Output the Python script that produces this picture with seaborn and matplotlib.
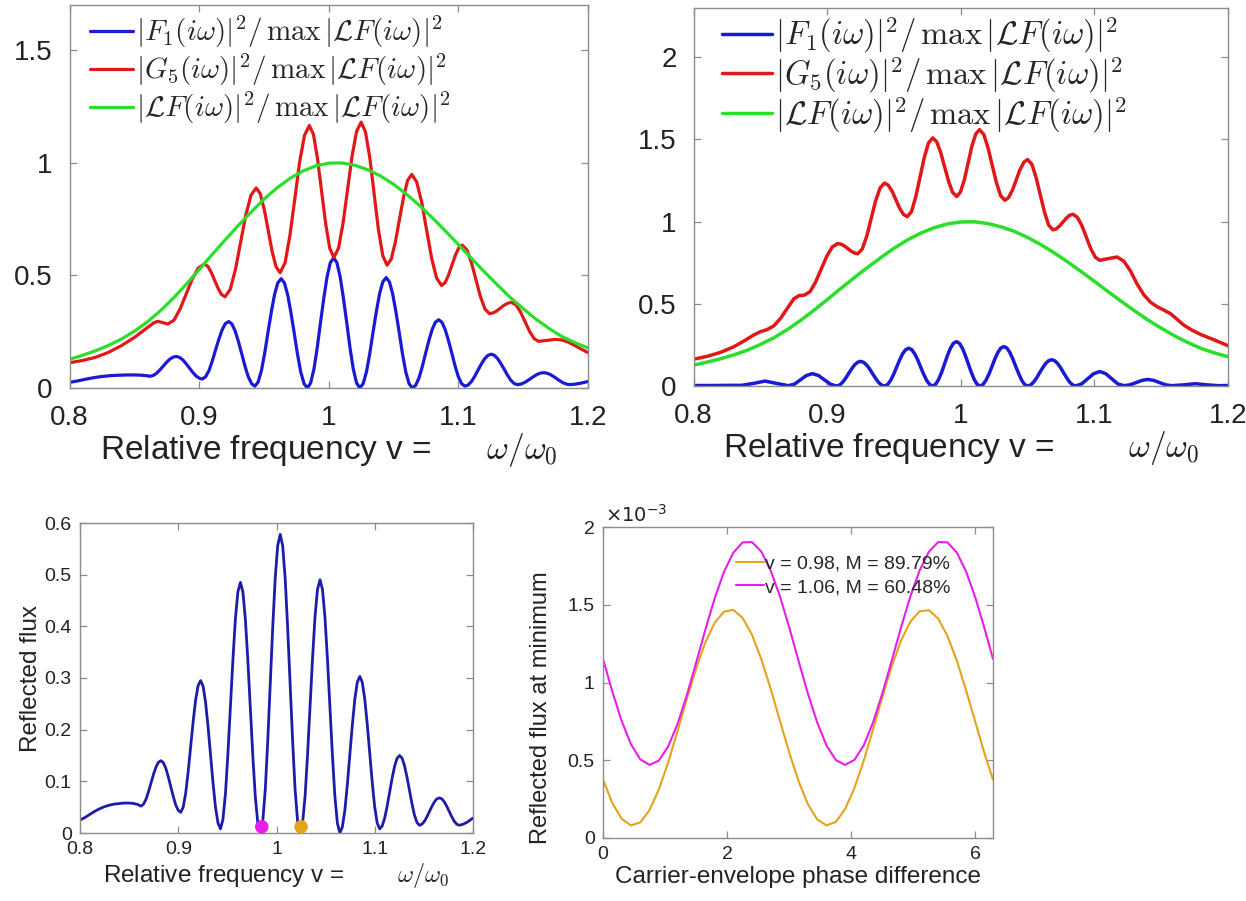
import matplotlib
matplotlib.use("Agg")
import matplotlib.pyplot as plt
from matplotlib.font_manager import FontProperties
from matplotlib.ticker import FuncFormatter, FixedLocator
import seaborn as sns

# ---------------- data ----------------
# Pulse 1: |F1|^2 normalised (also the reflected flux of the lower-left panel)
f1_x = [0.800, 0.805, 0.810, 0.815, 0.820, 0.825, 0.830, 0.835, 0.840, 0.845,
        0.850, 0.855, 0.859,
        0.8620, 0.8645, 0.8671, 0.8696, 0.8721, 0.8747, 0.8772, 0.8797, 0.8823,
        0.8848, 0.8873, 0.8898, 0.8924, 0.8949, 0.8974, 0.9000,
        0.9025, 0.9050, 0.9076, 0.9101, 0.9126, 0.9152, 0.9177, 0.9202, 0.9228,
        0.9253, 0.9278, 0.9303, 0.9329, 0.9354, 0.9379, 0.9405,
        0.9430, 0.9455, 0.9481, 0.9506, 0.9531, 0.9557, 0.9582, 0.9607, 0.9633,
        0.9658, 0.9683, 0.9708, 0.9734, 0.9759, 0.9784, 0.9810,
        0.9835, 0.9860, 0.9886, 0.9911, 0.9936, 0.9962, 0.9987, 1.0012, 1.0038,
        1.0063, 1.0088, 1.0113, 1.0139, 1.0164, 1.0189, 1.0215,
        1.0240, 1.0265, 1.0291, 1.0316, 1.0341, 1.0367, 1.0392, 1.0417, 1.0443,
        1.0468, 1.0493, 1.0518, 1.0544, 1.0569, 1.0594, 1.0620,
        1.0645, 1.0670, 1.0696, 1.0721, 1.0746, 1.0772, 1.0797, 1.0822, 1.0848,
        1.0873, 1.0898, 1.0923, 1.0949, 1.0974, 1.0999, 1.1025,
        1.1050, 1.1075, 1.1101, 1.1126, 1.1151, 1.1177, 1.1202, 1.1227, 1.1253,
        1.1278, 1.1303, 1.1328, 1.1354, 1.1379, 1.1404, 1.1430,
        1.1455, 1.1480, 1.1506, 1.1531, 1.1556, 1.1582, 1.1607, 1.1632, 1.1658,
        1.1683, 1.1708, 1.1733, 1.1759, 1.1784, 1.1809, 1.1835,
        1.1860, 1.190, 1.195, 1.200]
f1_y = [0.025, 0.030, 0.036, 0.042, 0.047, 0.051, 0.054, 0.056, 0.057, 0.058,
        0.058, 0.057, 0.055,
        0.052, 0.0554, 0.0649, 0.0792, 0.096, 0.1128, 0.1271, 0.1366, 0.140,
        0.1362, 0.1254, 0.1091, 0.090, 0.0709, 0.0546, 0.0438,
        0.040, 0.0497, 0.0773, 0.1187, 0.1675, 0.2163, 0.2577, 0.2853, 0.295,
        0.2841, 0.2530, 0.2064, 0.1515, 0.0966, 0.0500, 0.0189,
        0.008, 0.0262, 0.0778, 0.1553, 0.2465, 0.3378, 0.4152, 0.4668, 0.485,
        0.4665, 0.4140, 0.3353, 0.2425, 0.1497, 0.0710, 0.0185,
        0.000, 0.0220, 0.0846, 0.1784, 0.289, 0.3996, 0.4934, 0.5560, 0.578,
        0.5560, 0.4934, 0.3996, 0.289, 0.1784, 0.0846, 0.0220,
        0.000, 0.0187, 0.0717, 0.1513, 0.245, 0.3387, 0.4183, 0.4713, 0.490,
        0.4713, 0.4183, 0.3387, 0.245, 0.1513, 0.0717, 0.0187,
        0.000, 0.0115, 0.0444, 0.0935, 0.1515, 0.2095, 0.2586, 0.2915, 0.303,
        0.2918, 0.2598, 0.2119, 0.1555, 0.0991, 0.0512, 0.0192,
        0.008, 0.0134, 0.0288, 0.0518, 0.079, 0.1062, 0.1292, 0.1446, 0.150,
        0.1449, 0.1302, 0.1083, 0.0825, 0.0567, 0.0348, 0.0201,
        0.015, 0.0170, 0.0228, 0.0314, 0.0415, 0.0516, 0.0602, 0.0660, 0.068,
        0.0660, 0.0602, 0.0516, 0.0415, 0.0314, 0.0228, 0.0170,
        0.015, 0.017, 0.022, 0.029]

# Pulse train G5, first configuration
g5_x = [0.800, 0.810, 0.820, 0.830, 0.840, 0.850, 0.856, 0.861, 0.865, 0.868,
        0.872, 0.876,
        0.8807, 0.8853, 0.8900, 0.8947, 0.8993, 0.904,
        0.9067, 0.9093, 0.9120, 0.9147, 0.9173, 0.920,
        0.924, 0.928, 0.932, 0.936, 0.940, 0.944,
        0.9471, 0.9502, 0.9533, 0.9563, 0.9594, 0.9625,
        0.9663, 0.9700, 0.9738, 0.9775, 0.9813, 0.985,
        0.9882, 0.9913, 0.9945, 0.9977, 1.0008, 1.004,
        1.0075, 1.0110, 1.0145, 1.0180, 1.0215, 1.025,
        1.0283, 1.0317, 1.0350, 1.0383, 1.0417, 1.045,
        1.0482, 1.0513, 1.0545, 1.0577, 1.0608, 1.064,
        1.0678, 1.0717, 1.0755, 1.0793, 1.0832, 1.087,
        1.0897, 1.0923, 1.0950, 1.0977, 1.1003, 1.103,
        1.1065, 1.1100, 1.1135, 1.1170, 1.1205, 1.124,
        1.1268, 1.1297, 1.1325, 1.1353, 1.1382, 1.141,
        1.1445, 1.1480, 1.1515, 1.1550, 1.1585, 1.162,
        1.1685, 1.175, 1.180, 1.185, 1.190, 1.195, 1.200]
g5_y = [0.112, 0.122, 0.136, 0.158, 0.188, 0.224, 0.250, 0.272, 0.289, 0.296,
        0.290, 0.284,
        0.3018, 0.3505, 0.417, 0.4835, 0.5322, 0.550,
        0.5403, 0.5138, 0.4775, 0.4413, 0.4147, 0.405,
        0.4374, 0.5258, 0.6465, 0.7673, 0.8556, 0.888,
        0.8628, 0.794, 0.700, 0.606, 0.5372, 0.512,
        0.5558, 0.6753, 0.8385, 1.0018, 1.1213, 1.165,
        1.1258, 1.0188, 0.8725, 0.7263, 0.6192, 0.580,
        0.6202, 0.730, 0.880, 1.030, 1.1398, 1.180,
        1.1375, 1.0213, 0.8625, 0.7038, 0.5875, 0.545,
        0.572, 0.6458, 0.7465, 0.8473, 0.921, 0.948,
        0.915, 0.8248, 0.7015, 0.5783, 0.488, 0.455,
        0.467, 0.4998, 0.5445, 0.5893, 0.622, 0.634,
        0.6136, 0.558, 0.482, 0.406, 0.3504, 0.330,
        0.3334, 0.3425, 0.355, 0.3675, 0.3767, 0.380,
        0.3684, 0.3368, 0.2935, 0.2503, 0.2186, 0.207,
        0.2115, 0.216, 0.213, 0.203, 0.188, 0.172, 0.157]

# Envelope |LF|^2 normalised (same in both upper panels)
lf_x = [0.80, 0.81, 0.82, 0.83, 0.84, 0.85, 0.86, 0.87, 0.88, 0.89, 0.90,
        0.91, 0.92, 0.93, 0.94, 0.95, 0.96, 0.97, 0.98, 0.99, 1.00, 1.01,
        1.02, 1.03, 1.04, 1.05, 1.06, 1.07, 1.08, 1.09, 1.10, 1.11, 1.12,
        1.13, 1.14, 1.15, 1.16, 1.17, 1.18, 1.19, 1.20]
lf_y = [0.127, 0.145, 0.165, 0.189, 0.217, 0.252, 0.293, 0.342, 0.398, 0.460,
        0.525, 0.592, 0.657, 0.720, 0.780, 0.838, 0.888, 0.930, 0.963, 0.986,
        0.998, 0.999, 0.989, 0.969, 0.941, 0.904, 0.860, 0.810, 0.755, 0.697,
        0.637, 0.576, 0.516, 0.458, 0.402, 0.352, 0.305, 0.264, 0.228, 0.201,
        0.178]

# Second configuration: |F1|^2
f1b_x = [0.800, 0.815, 0.828, 0.836, 0.845, 0.8535, 0.862,
         0.871, 0.8755, 0.880, 0.8845, 0.889, 0.8935, 0.898, 0.9025,
         0.9070, 0.9093, 0.9115, 0.9138, 0.9160, 0.9183, 0.9205, 0.9228, 0.9250,
         0.9273, 0.9295, 0.9318, 0.9340, 0.9363, 0.9385, 0.9408,
         0.9430, 0.9453, 0.9475, 0.9498, 0.9520, 0.9543, 0.9565, 0.9588, 0.9610,
         0.9633, 0.9655, 0.9678, 0.9700, 0.9723, 0.9745, 0.9768,
         0.9790, 0.9812, 0.9834, 0.9857, 0.9879, 0.9901, 0.9923, 0.9945, 0.9968,
         0.9990, 1.0012, 1.0034, 1.0056, 1.0079, 1.0101, 1.0123,
         1.0145, 1.0167, 1.0189, 1.0212, 1.0234, 1.0256, 1.0278, 1.0300, 1.0323,
         1.0345, 1.0367, 1.0389, 1.0411, 1.0434, 1.0456, 1.0478,
         1.0500, 1.0523, 1.0545, 1.0568, 1.0590, 1.0613, 1.0635, 1.0658, 1.0680,
         1.0703, 1.0725, 1.0748, 1.0770, 1.0793, 1.0815, 1.0838,
         1.0860, 1.0905, 1.0950, 1.0995, 1.1040, 1.1085, 1.1130, 1.1175,
         1.1220, 1.1265, 1.1310, 1.1355, 1.1400, 1.1445, 1.1490, 1.1535,
         1.1580, 1.1670, 1.1755, 1.1840, 1.1930, 1.2000]
f1b_y = [0.003, 0.003, 0.004, 0.004, 0.016, 0.030, 0.016,
         0.002, 0.011, 0.0375, 0.064, 0.075, 0.064, 0.0375, 0.011,
         0.000, 0.0057, 0.0220, 0.0463, 0.075, 0.1037, 0.128, 0.1443, 0.150,
         0.1443, 0.128, 0.1037, 0.075, 0.0463, 0.0220, 0.0057,
         0.000, 0.0088, 0.0337, 0.0710, 0.115, 0.1590, 0.1963, 0.2212, 0.230,
         0.2212, 0.1963, 0.1590, 0.115, 0.0710, 0.0337, 0.0088,
         0.000, 0.0103, 0.0395, 0.0833, 0.135, 0.1867, 0.2305, 0.2597, 0.270,
         0.2597, 0.2305, 0.1867, 0.135, 0.0833, 0.0395, 0.0103,
         0.000, 0.0091, 0.0351, 0.0741, 0.120, 0.1659, 0.2049, 0.2309, 0.240,
         0.2309, 0.2049, 0.1659, 0.120, 0.0741, 0.0351, 0.0091,
         0.000, 0.0061, 0.0234, 0.0494, 0.080, 0.1106, 0.1366, 0.1539, 0.160,
         0.1539, 0.1366, 0.1106, 0.080, 0.0494, 0.0234, 0.0061,
         0.000, 0.013, 0.044, 0.075, 0.088, 0.075, 0.044, 0.013,
         0.002, 0.007, 0.020, 0.034, 0.040, 0.034, 0.020, 0.007,
         0.002, 0.007, 0.014, 0.007, 0.002, 0.003]

# Second configuration: |G5|^2
g5b_x = [0.800, 0.810, 0.820, 0.830, 0.838, 0.845, 0.850, 0.855, 0.860, 0.865,
         0.870, 0.875, 0.879, 0.883,
         0.8872, 0.8913, 0.8955, 0.8997, 0.9038, 0.908,
         0.9105, 0.9130, 0.9155, 0.9180, 0.9205, 0.923,
         0.9263, 0.9297, 0.9330, 0.9363, 0.9397, 0.943,
         0.9458, 0.9487, 0.9515, 0.9543, 0.9572, 0.960,
         0.9632, 0.9663, 0.9695, 0.9727, 0.9758, 0.979,
         0.9820, 0.9850, 0.9880, 0.9910, 0.9940, 0.997,
         0.9998, 1.0027, 1.0055, 1.0083, 1.0112, 1.014,
         1.0172, 1.0203, 1.0235, 1.0267, 1.0298, 1.033,
         1.0358, 1.0387, 1.0415, 1.0443, 1.0472, 1.050,
         1.0532, 1.0563, 1.0595, 1.0627, 1.0658, 1.069,
         1.0715, 1.0740, 1.0765, 1.0790, 1.0815, 1.084,
         1.0873, 1.0907, 1.0940, 1.0973, 1.1007, 1.104,
         1.1105, 1.117, 1.122, 1.127, 1.132, 1.137, 1.142, 1.147, 1.152,
         1.157, 1.162, 1.167, 1.173, 1.180, 1.188, 1.194, 1.200]
g5b_y = [0.163, 0.180, 0.204, 0.238, 0.275, 0.310, 0.330, 0.343, 0.365, 0.410,
         0.470, 0.530, 0.550, 0.553,
         0.574, 0.6315, 0.710, 0.7885, 0.846, 0.867,
         0.8628, 0.8515, 0.836, 0.8205, 0.8092, 0.805,
         0.8338, 0.9125, 1.020, 1.1275, 1.2062, 1.235,
         1.2213, 1.1838, 1.1325, 1.0813, 1.0437, 1.030,
         1.0622, 1.150, 1.270, 1.390, 1.4778, 1.510,
         1.4861, 1.4208, 1.3315, 1.2423, 1.1769, 1.153,
         1.1803, 1.2548, 1.3565, 1.4583, 1.5327, 1.560,
         1.5312, 1.4525, 1.345, 1.2375, 1.1588, 1.130,
         1.1466, 1.192, 1.254, 1.316, 1.3614, 1.378,
         1.3493, 1.271, 1.164, 1.057, 0.9787, 0.950,
         0.9564, 0.9738, 0.9975, 1.0213, 1.0386, 1.045,
         1.0262, 0.975, 0.905, 0.835, 0.7838, 0.765,
         0.775, 0.785, 0.760, 0.700, 0.620, 0.555, 0.510, 0.482, 0.462,
         0.440, 0.405, 0.370, 0.340, 0.312, 0.286, 0.266, 0.245]

# Frequencies picked on the reflected-flux curve
pick_v = [0.985, 1.025]
pick_flux = [0.012, 0.012]

# Reflected flux at minimum vs carrier-envelope phase (units of 1e-3)
cep = [0.00, 0.15, 0.30, 0.45, 0.60, 0.75, 0.90, 1.05, 1.20, 1.35, 1.50,
       1.65, 1.80, 1.95, 2.10, 2.25, 2.40, 2.55, 2.70, 2.85, 3.00, 3.15,
       3.30, 3.45, 3.60, 3.75, 3.90, 4.05, 4.20, 4.35, 4.50, 4.65, 4.80,
       4.95, 5.10, 5.25, 5.40, 5.55, 5.70, 5.85, 6.00, 6.15, 6.2832]
flux_098 = [0.376, 0.225, 0.124, 0.081, 0.100, 0.180, 0.312, 0.486, 0.686,
            0.893, 1.090, 1.259, 1.385, 1.456, 1.467, 1.415, 1.307, 1.151,
            0.961, 0.755, 0.550, 0.366, 0.218, 0.120, 0.081, 0.103, 0.186,
            0.321, 0.496, 0.697, 0.905, 1.101, 1.268, 1.390, 1.458, 1.465,
            1.411, 1.299, 1.141, 0.950, 0.743, 0.539, 0.376]
flux_106 = [1.152, 0.942, 0.753, 0.603, 0.506, 0.470, 0.498, 0.589, 0.732,
            0.917, 1.126, 1.341, 1.542, 1.712, 1.835, 1.901, 1.903, 1.842,
            1.722, 1.555, 1.355, 1.140, 0.930, 0.744, 0.596, 0.502, 0.470,
            0.502, 0.595, 0.742, 0.929, 1.138, 1.352, 1.552, 1.720, 1.841,
            1.903, 1.901, 1.836, 1.714, 1.544, 1.343, 1.152]

freq_ticks = [0.8, 0.9, 1.0, 1.1, 1.2]
legend_labels = [r"$|F_1(i\omega)|^2/\,\max\,|\mathcal{L}F(i\omega)|^2$",
                 r"$|G_5(i\omega)|^2/\,\max\,|\mathcal{L}F(i\omega)|^2$",
                 r"$|\mathcal{L}F(i\omega)|^2/\,\max\,|\mathcal{L}F(i\omega)|^2$"]
cep_labels = ["v = 0.98, M = 89.79%", "v = 1.06, M = 60.48%"]
freq_text = "Relative frequency v ="
freq_math = r"$\omega/\omega_\mathsf{0}$"

# ---------------- style ----------------
sns.set_theme(style="white")
plt.rcParams["font.family"] = ["Liberation Sans", "DejaVu Sans"]
plt.rcParams["mathtext.fontset"] = "cm"

SPINE = "#8c8c8c"
TEXT = "#222222"
BLUE = "#1a1ad4"
RED = "#e01818"
GREEN = "#2ade2a"
NAVY = "#1c1ca8"
ORANGE = "#e3a41c"
MAGENTA = "#e81ee8"

W, H = 1246, 901
fig = plt.figure(figsize=(W / 100, H / 100), dpi=100)


def box(left, top, right, bottom):
    return fig.add_axes([left / W, 1 - bottom / H, (right - left) / W, (bottom - top) / H])


def gfmt(v, _):
    return "%g" % round(v, 6)


def style(ax, fs, pad):
    for s in ax.spines.values():
        s.set_visible(True)
        s.set_color(SPINE)
        s.set_linewidth(1.0)
    ax.tick_params(direction="in", length=5, width=0.9, colors=SPINE,
                   labelcolor=TEXT, labelsize=fs, pad=pad,
                   top=True, right=True, bottom=True, left=True)
    ax.xaxis.set_major_formatter(FuncFormatter(gfmt))
    ax.yaxis.set_major_formatter(FuncFormatter(gfmt))


def freq_xlabel(ax, fs, gap, pad):
    ax.set_xlabel(freq_text + " " * gap + freq_math, fontsize=fs, color=TEXT,
                  labelpad=pad)


def spectrum_panel(ax, fx, fy, gx, gy, ymax, yticks, fs, xfs, gap, lw,
                   leg_anchor, leg_fs, hl, sp):
    sns.lineplot(x=fx, y=fy, ax=ax, color=BLUE, linewidth=lw, label=legend_labels[0])
    sns.lineplot(x=gx, y=gy, ax=ax, color=RED, linewidth=lw, label=legend_labels[1])
    sns.lineplot(x=lf_x, y=lf_y, ax=ax, color=GREEN, linewidth=lw, label=legend_labels[2])
    ax.set_xlim(0.8, 1.2)
    ax.set_ylim(0, ymax)
    ax.xaxis.set_major_locator(FixedLocator(freq_ticks))
    ax.yaxis.set_major_locator(FixedLocator(yticks))
    style(ax, fs, 12)
    freq_xlabel(ax, xfs, gap, 0)
    ax.set_ylabel("")
    prop = FontProperties(size=leg_fs, math_fontfamily="cm")
    ax.legend(loc="upper left", bbox_to_anchor=leg_anchor, frameon=False,
              prop=prop, handlelength=hl, handletextpad=0.1, borderpad=0,
              borderaxespad=0, labelspacing=sp)


# upper left
ax1 = box(69.5, 5, 588, 388)
spectrum_panel(ax1, f1_x, f1_y, g5_x, g5_y, 1.7, [0, 0.5, 1, 1.5], 20, 24, 6, 2.3,
               (0.0395, 0.977), 21, 1.47, 0.06)

# upper right
ax2 = box(693.5, 8, 1228, 386)
spectrum_panel(ax2, f1b_x, f1b_y, g5b_x, g5b_y, 2.3, [0, 0.5, 1, 1.5, 2], 20, 24, 8, 2.5,
               (0.053, 0.980), 23.5, 1.53, 0.0)

# lower left: reflected flux
ax3 = box(80, 523, 473, 833)
sns.lineplot(x=f1_x, y=f1_y, ax=ax3, color=NAVY, linewidth=2.0)
sns.scatterplot(x=pick_v, y=pick_flux, ax=ax3, hue=["a", "b"],
                palette=[MAGENTA, ORANGE], s=95, edgecolor="none", legend=False,
                clip_on=False, zorder=5)
ax3.set_xlim(0.8, 1.2)
ax3.set_ylim(0, 0.6)
ax3.xaxis.set_major_locator(FixedLocator(freq_ticks))
ax3.yaxis.set_major_locator(FixedLocator([0, 0.1, 0.2, 0.3, 0.4, 0.5, 0.6]))
style(ax3, 14, 6)
freq_xlabel(ax3, 17.5, 8, 2)
ax3.set_ylabel("Reflected flux", fontsize=17.5, color=TEXT, labelpad=2)

# lower right: flux at minimum vs CEP
ax4 = box(603, 527, 993, 838)
sns.lineplot(x=cep, y=flux_098, ax=ax4, color=ORANGE, linewidth=1.5, label=cep_labels[0])
sns.lineplot(x=cep, y=flux_106, ax=ax4, color=MAGENTA, linewidth=1.5, label=cep_labels[1])
ax4.set_xlim(0, cep[-1])
ax4.set_ylim(0, 2)
ax4.xaxis.set_major_locator(FixedLocator([0, 2, 4, 6]))
ax4.yaxis.set_major_locator(FixedLocator([0, 0.5, 1, 1.5, 2]))
style(ax4, 14, 6)
ax4.set_xlabel("Carrier-envelope phase difference", fontsize=17.5, color=TEXT, labelpad=2)
ax4.set_ylabel("Reflected flux at minimum", fontsize=17, color=TEXT)
ax4.yaxis.set_label_coords(-0.13, 0.42)
ax4.text(0.005, 1.005, r"$\times10^{-3}$", transform=ax4.transAxes, fontsize=14,
         color=TEXT, ha="left", va="bottom", math_fontfamily="dejavusans")
ax4.legend(loc="upper left", bbox_to_anchor=(0.34, 0.91), frameon=False,
           prop=FontProperties(family=["Liberation Sans Narrow", "Liberation Sans"], size=14),
           handlelength=1.45, handletextpad=0.05, borderpad=0, borderaxespad=0,
           labelspacing=0.3)

fig.savefig("out.png", dpi=100, facecolor="white")
